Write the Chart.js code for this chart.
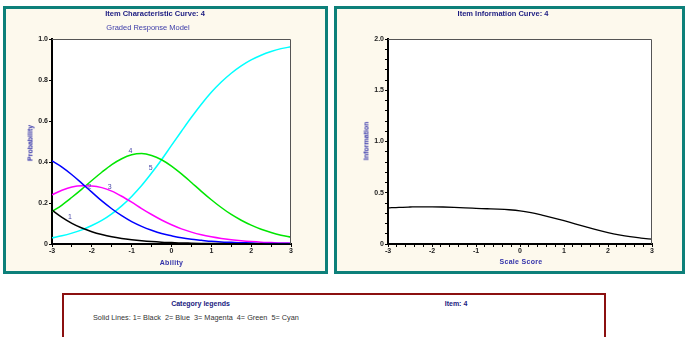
<!DOCTYPE html>
<html><head><meta charset="utf-8">
<script src="https://cdn.jsdelivr.net/npm/chart.js@4.4.0/dist/chart.umd.min.js"></script>
<style>
html,body{margin:0;padding:0;background:#fff;width:685px;height:337px;overflow:hidden;font-family:"Liberation Sans",Arial,sans-serif;}
.panel{position:absolute;top:6px;height:262px;border:3px solid #0d807a;background:#fdf9ed;}
canvas{position:absolute;top:0;}
.t{position:absolute;white-space:nowrap;transform:translate(-50%,-50%);line-height:1;}
.ttl{font-weight:bold;font-size:7.5px;color:#1a1a80;}
.sub{font-size:7.5px;color:#3c3ca8;}
.ax{font-weight:bold;font-size:7px;color:#3333aa;}
.rot{transform:translate(-50%,-50%) rotate(-90deg);}
#legend{position:absolute;left:62px;top:293px;width:540px;height:60px;border:2px solid #8b1010;background:#fff;}
.lg{font-size:7.3px;color:#333;}
</style></head>
<body>
<div class="panel" style="left:3px;width:319px;"></div>
<div class="panel" style="left:334px;width:345px;"></div>
<canvas id="icc" width="330" height="275" style="left:0px;"></canvas>
<canvas id="iic" width="355" height="275" style="left:330px;"></canvas>

<div class="t ttl" style="left:155px;top:14px;">Item Characteristic Curve: 4</div>
<div class="t sub" style="left:148px;top:27.5px;">Graded Response Model</div>
<div class="t ax rot" style="left:29.5px;top:143px;">Probability</div>
<div class="t ax" style="left:171.5px;top:262px;letter-spacing:0.3px;">Ability</div>

<div class="t ttl" style="left:503px;top:14px;">Item Information Curve: 4</div>
<div class="t ax rot" style="left:366px;top:141px;">Information</div>
<div class="t ax" style="left:521px;top:261px;letter-spacing:0.3px;">Scale Score</div>

<div id="legend"></div>
<div class="t ttl" style="left:200.5px;top:303px;font-size:7px;">Category legends</div>
<div class="t ttl" style="left:456px;top:303px;font-size:7px;">Item: 4</div>
<div class="t lg" style="left:93px;top:317.5px;transform:translate(0,-50%);">Solid Lines: 1= Black&nbsp; 2= Blue&nbsp; 3= Magenta&nbsp; 4= Green&nbsp; 5= Cyan</div>

<script>
// ---------- data ----------
const thetas = [-3,-2.75,-2.5,-2.25,-2,-1.75,-1.5,-1.25,-1,-0.75,-0.5,-0.25,0,0.25,0.5,0.75,1,1.25,1.5,1.75,2,2.25,2.5,2.75,3];
const cat1Black   = [0.165,0.130,0.101,0.078,0.060,0.046,0.035,0.027,0.021,0.016,0.012,0.009,0.007,0.005,0.004,0.003,0.002,0.002,0.001,0.001,0.001,0.001,0.000,0.000,0.000];
const cat2Blue    = [0.405,0.375,0.338,0.296,0.253,0.210,0.172,0.138,0.109,0.086,0.067,0.051,0.040,0.030,0.023,0.018,0.013,0.010,0.008,0.006,0.005,0.003,0.003,0.002,0.002];
const cat3Magenta = [0.240,0.262,0.278,0.284,0.283,0.275,0.258,0.233,0.204,0.173,0.144,0.117,0.094,0.074,0.058,0.045,0.035,0.027,0.021,0.016,0.012,0.009,0.007,0.005,0.004];
const cat4Green   = [0.158,0.190,0.228,0.268,0.310,0.350,0.387,0.416,0.435,0.441,0.432,0.411,0.380,0.342,0.300,0.257,0.216,0.178,0.144,0.116,0.092,0.072,0.056,0.043,0.033];
const cat5Cyan    = [0.030,0.040,0.053,0.069,0.090,0.115,0.147,0.186,0.232,0.285,0.346,0.411,0.481,0.550,0.618,0.682,0.740,0.790,0.833,0.869,0.898,0.921,0.939,0.953,0.962];
const information = [0.352,0.358,0.361,0.363,0.363,0.361,0.357,0.352,0.348,0.344,0.340,0.334,0.324,0.306,0.282,0.256,0.227,0.196,0.166,0.137,0.111,0.089,0.071,0.058,0.047];
const curveLabelText  = ['1','2','3','4','5'];
const curveLabelTheta = [-2.55,-2.06,-1.55,-1.03,-0.52];
const curveLabelProb  = [0.129,0.276,0.276,0.453,0.372];

// ---------- helpers ----------
const FONT = '"Liberation Sans", Arial, sans-serif';
const pts = arr => thetas.map((t,i)=>({x:t,y:arr[i]}));
const tickFont = {family:FONT,size:7,weight:'bold'};
const isInt = v => Math.abs(v-Math.round(v))<1e-6;

const plotFrame = {
  id:'plotFrame',
  beforeDraw(chart){
    const a=chart.chartArea, c=chart.ctx;
    c.save(); c.fillStyle='#fff'; c.fillRect(a.left,a.top,a.right-a.left,a.bottom-a.top); c.restore();
  },
  afterDraw(chart){
    const a=chart.chartArea, c=chart.ctx;
    c.save(); c.strokeStyle='#555'; c.lineWidth=1;
    c.beginPath(); c.moveTo(a.left,a.top+0.5); c.lineTo(a.right-0.5,a.top+0.5); c.lineTo(a.right-0.5,a.bottom); c.stroke();
    c.restore();
  }
};
const curveLabels = {
  id:'curveLabels',
  afterDatasetsDraw(chart){
    const c=chart.ctx, xs=chart.scales.x, ys=chart.scales.y;
    c.save(); c.font='7px '+FONT; c.fillStyle='#4848a8'; c.textAlign='center'; c.textBaseline='middle';
    curveLabelText.forEach((t,i)=>c.fillText(t, xs.getPixelForValue(curveLabelTheta[i]), ys.getPixelForValue(curveLabelProb[i])));
    c.restore();
  }
};
function axisCommon(){
  return {
    grid:{display:true,drawOnChartArea:false,drawTicks:true,tickLength:3,tickColor:'#000',tickWidth:1},
    border:{display:true,color:'#000',width:2}
  };
}
const line = (data,color,w)=>({data:pts(data),borderColor:color,borderWidth:w,pointRadius:0,fill:false,cubicInterpolationMode:'monotone'});

new Chart(document.getElementById('icc'),{
  type:'line',
  data:{datasets:[
    line(cat1Black,'#000000',1.5),
    line(cat2Blue,'#0000ff',1.5),
    line(cat3Magenta,'#ff00ff',1.5),
    line(cat4Green,'#00e600',1.5),
    line(cat5Cyan,'#00ffff',1.5)
  ]},
  options:{
    responsive:false,animation:false,devicePixelRatio:1,
    layout:{padding:{left:32,right:39,top:39,bottom:19}},
    plugins:{legend:{display:false},tooltip:{enabled:false},title:{display:false}},
    scales:{
      x:{type:'linear',min:-3,max:3,afterFit(s){s.height=12;},
        ticks:{stepSize:0.5,maxTicksLimit:100,autoSkip:false,maxRotation:0,minRotation:0,padding:0,color:'#222',font:tickFont,
          callback:v=>isInt(v)?String(Math.round(v)):''},
        ...axisCommon()},
      y:{type:'linear',min:0,max:1,afterFit(s){s.width=20;},
        ticks:{stepSize:0.2,maxTicksLimit:100,autoSkip:false,padding:1,color:'#222',font:tickFont,
          callback:v=>Math.abs(v)<1e-9?'0':v.toFixed(1)},
        ...axisCommon()}
    }
  },
  plugins:[plotFrame,curveLabels]
});

new Chart(document.getElementById('iic'),{
  type:'line',
  data:{datasets:[ line(information,'#000000',1.3) ]},
  options:{
    responsive:false,animation:false,devicePixelRatio:1,
    layout:{padding:{left:38,right:33,top:39,bottom:19}},
    plugins:{legend:{display:false},tooltip:{enabled:false},title:{display:false}},
    scales:{
      x:{type:'linear',min:-3,max:3,afterFit(s){s.height=12;},
        ticks:{stepSize:0.2,maxTicksLimit:100,autoSkip:false,maxRotation:0,minRotation:0,padding:0,color:'#222',font:tickFont,
          callback:v=>isInt(v)?String(Math.round(v)):''},
        ...axisCommon()},
      y:{type:'linear',min:0,max:2,afterFit(s){s.width=20;},
        ticks:{stepSize:0.1,maxTicksLimit:100,autoSkip:false,padding:1,color:'#222',font:tickFont,
          callback:v=>{const r=Math.round(v*10); return r%5===0?(r===0?'0':(r/10).toFixed(1)):'';}},
        ...axisCommon()}
    }
  },
  plugins:[plotFrame]
});
</script>
</body></html>
